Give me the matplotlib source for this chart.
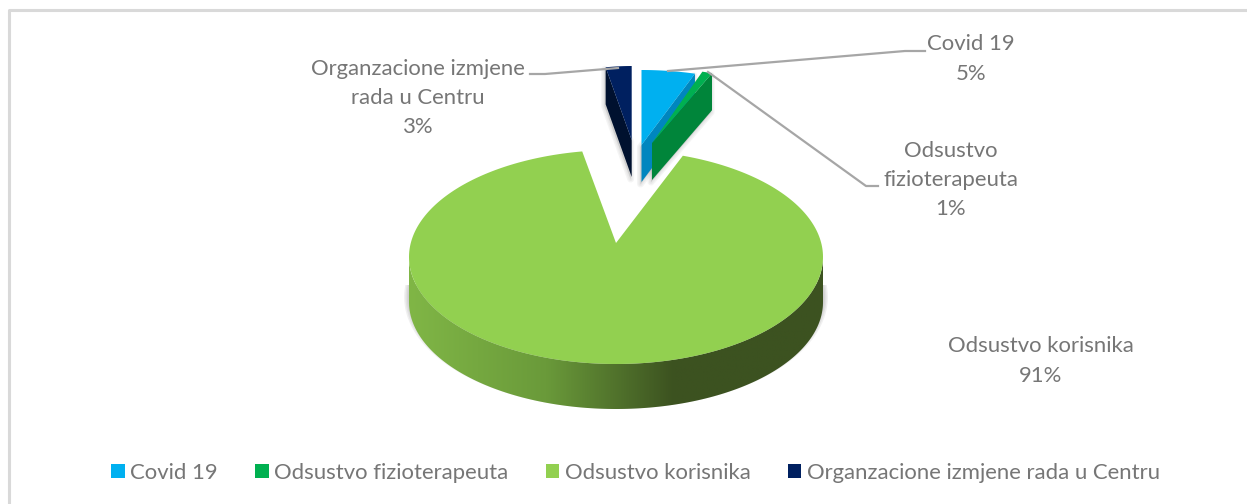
import numpy as np
import matplotlib
matplotlib.use('Agg')
import matplotlib.pyplot as plt
from matplotlib.patches import Polygon, Rectangle
from matplotlib.colors import LinearSegmentedColormap

plt.rcParams['font.family'] = ['Lato', 'DejaVu Sans']

categories = ['Covid 19', 'Odsustvo fizioterapeuta', 'Odsustvo korisnika',
              'Organzacione izmjene rada u Centru']
values = [5, 1, 91, 3]

top_colors = ['#00B0F0', '#00B050', '#92D050', '#002060']
side_colors = ['#0086BF', '#00853A', '#3C5220', '#00112F']
text_color = '#767676'
label_size = 15.9

fig = plt.figure(figsize=(12.47, 5.04), dpi=100)
ax = fig.add_axes([0, 0, 1, 1])
ax.set_xlim(0, 1247)
ax.set_ylim(504, 0)
ax.axis('off')

# chart frame, only top and left show in the crop
ax.plot([1247, 9, 9], [10, 10, 504], color='#D9D9D9', lw=2.2, zorder=1)

# slice angles, clockwise from 12 o'clock
edges = np.concatenate([[0], np.cumsum(values)]) / sum(values) * 360

# big slice geometry
cx, cy, rx, ry = 616, 257, 207, 107
apex_x, apex_y = 616, 243
depth = 45


def hit_ellipse(deg):
    # where a ray from the apex meets the top ellipse
    a = np.radians(deg)
    dx, dy = rx * np.sin(a), -ry * np.cos(a)
    off = apex_y - cy
    qa = (dx / rx) ** 2 + (dy / ry) ** 2
    qb = 2 * dy * off / ry ** 2
    qc = (off / ry) ** 2 - 1
    s = (-qb + np.sqrt(qb ** 2 - 4 * qa * qc)) / (2 * qa)
    return np.arctan2(dx * s / rx, -(off + dy * s) / ry)


def soft_shadow(xy, dx=0, dy=0, z=2, wide=9, alpha=0.07, clip=None):
    shifted = np.asarray(xy) + [dx, dy]
    for w in np.arange(wide, 0, -2):
        p = Polygon(shifted, closed=True, fc='#707070', ec='#707070',
                    lw=w, alpha=alpha, zorder=z, joinstyle='round')
        ax.add_patch(p)
        if clip is not None:
            p.set_clip_path(clip)


# big slice: shadow, side with gradient, top
t = np.linspace(0, 2 * np.pi, 300)
ring = np.column_stack([cx + rx * np.sin(t), cy - ry * np.cos(t)])
# only the part under the pie should show, not the gap in the top face
shadow_clip = Rectangle((380, 285), 470, 130, transform=ax.transData)
soft_shadow(ring, dy=40, z=2, wide=7, alpha=0.1, clip=shadow_clip)

t = np.linspace(np.pi / 2, 3 * np.pi / 2, 200)
lower_x, lower_y = cx + rx * np.sin(t), cy - ry * np.cos(t)
side_xy = np.column_stack([np.concatenate([lower_x, lower_x[::-1]]),
                           np.concatenate([lower_y, lower_y[::-1] + depth])])
side_patch = Polygon(side_xy, closed=True, fc='none', ec='none', zorder=3)
ax.add_patch(side_patch)
cmap = LinearSegmentedColormap.from_list(
    'side', [(0, '#80B646'), (0.33, '#6A9A3A'), (0.64, '#3C5220'), (1, '#3C5220')])
grad = ax.imshow(np.linspace(0, 1, 256).reshape(1, -1), cmap=cmap, aspect='auto',
                 extent=[cx - rx, cx + rx, cy + ry + depth + 2, cy - 5], zorder=3)
grad.set_clip_path(side_patch)
ax.set_xlim(0, 1247)
ax.set_ylim(504, 0)

t0 = hit_ellipse(edges[2])
t1 = hit_ellipse(edges[3]) + 2 * np.pi
t = np.linspace(t0, t1, 300)
face = np.vstack([[apex_x, apex_y],
                  np.column_stack([cx + rx * np.sin(t), cy - ry * np.cos(t)])])
ax.add_patch(Polygon(face, closed=True, fc=top_colors[2], ec='none', zorder=4))

# exploded small slices: index, apex x, apex y, rx, ry
small = [(3, 631.7, 140, 139, 74),
         (0, 641.5, 145, 173, 75),
         (1, 652, 143, 163, 75)]
small_depth = 37

for i, ax_, ay_, srx, sry in small:
    a = np.radians(np.linspace(edges[i], edges[i + 1], 30))
    rim = np.column_stack([ax_ + srx * np.sin(a), ay_ - sry * np.cos(a)])
    top = np.vstack([[ax_, ay_], rim])
    # the visible cut wall: left edge for the last slice, right edge for the others
    end = rim[0] if i == 3 else rim[-1]
    wall = np.array([end, [ax_, ay_], [ax_, ay_ + small_depth], end + [0, small_depth]])
    soft_shadow(wall, dx=-1, dy=2, z=5, wide=5)
    ax.add_patch(Polygon(wall, closed=True, fc=side_colors[i], ec='none', zorder=6))
    ax.add_patch(Polygon(top, closed=True, fc=top_colors[i], ec='none', zorder=6))

# leader lines
leaders = [([668, 905, 925], [71, 51, 51]),
           ([708, 866, 878], [72, 186, 186]),
           ([530, 545, 618], [74, 74, 68])]
for lx, ly in leaders:
    ax.plot(lx, ly, color='#A6A6A6', lw=1.6, zorder=7, solid_joinstyle='round')

# data labels
labels = [(971, 'Covid 19\n5%'),
          (951, 'Odsustvo\nfizioterapeuta\n1%'),
          (1041, 'Odsustvo korisnika\n91%'),
          (418, 'Organzacione izmjene\nrada u Centru\n3%')]
label_mids = [59, 180, 361, 98]
for (x, s), y in zip(labels, label_mids):
    ax.text(x, y, s, ha='center', va='center', fontsize=label_size, color=text_color,
            linespacing=1.58, zorder=8)

# legend
handles = [Rectangle((0, 0), 1, 1, fc=c, ec='none') for c in top_colors]
ax.legend(handles, categories, ncol=4, loc='center left', bbox_to_anchor=(111 / 1247, 1 - 473 / 504),
          bbox_transform=fig.transFigure, frameon=False, fontsize=label_size,
          labelcolor=text_color, handlelength=0.62, handleheight=0.62,
          handletextpad=0.25, columnspacing=1.68, borderpad=0, borderaxespad=0)

fig.savefig('out.png', dpi=100, facecolor='white')
